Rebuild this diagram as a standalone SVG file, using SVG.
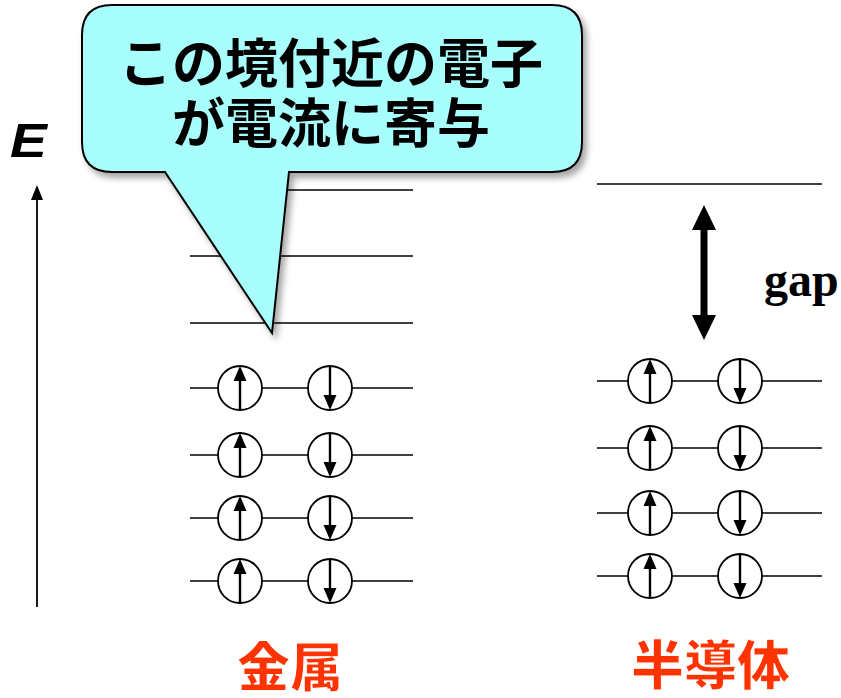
<svg xmlns="http://www.w3.org/2000/svg" width="841" height="698" viewBox="0 0 841 698">
<style>
.lv{stroke:#000;stroke-width:1.6;fill:none}
.ci{stroke:#000;stroke-width:1.8;fill:#fff}
.sp{stroke:#000;stroke-width:2.4}
.lab{font-family:"Noto Sans CJK JP","Noto Sans CJK SC",sans-serif;font-weight:900;font-size:53px;fill:#ff3300;stroke:#fff;stroke-width:1}
.cj{font-family:"Noto Sans CJK JP",sans-serif;font-weight:700;font-size:53px;fill:#000;text-anchor:middle}
</style>
<defs>
<g id="up"><circle class="ci" cx="0" cy="0" r="22"/><line class="sp" x1="0" y1="22" x2="0" y2="-8"/><path d="M-6.5,-7L6.5,-7L0,-22Z" fill="#000"/></g>
<g id="dn"><circle class="ci" cx="0" cy="0" r="22"/><line class="sp" x1="0" y1="-22" x2="0" y2="8"/><path d="M-6.5,7L6.5,7L0,22Z" fill="#000"/></g>
<filter id="sh" x="-10%" y="-10%" width="130%" height="130%"><feDropShadow dx="4" dy="5" stdDeviation="3" flood-color="#000" flood-opacity="0.35"/></filter>
</defs>

<g id="axis">
<line x1="37" y1="607" x2="37" y2="198" stroke="#000" stroke-width="1.8"/>
<path d="M31,200L43,200L37,185Z" fill="#000"/>
<text x="0" y="0" transform="translate(10,157) scale(1.15,1)" font-family="Liberation Sans,Arial,sans-serif" font-style="italic" font-weight="bold" font-size="48">E</text>
</g>

<g id="metal">
<line class="lv" x1="190" y1="190" x2="413" y2="190"/>
<line class="lv" x1="190" y1="256" x2="413" y2="256"/>
<line class="lv" x1="190" y1="323" x2="413" y2="323"/>
<g id="m1"><line class="lv" x1="190" y1="388" x2="413" y2="388"/><use href="#up" x="240" y="388"/><use href="#dn" x="330" y="388"/></g>
<g id="m2"><line class="lv" x1="190" y1="455" x2="413" y2="455"/><use href="#up" x="240" y="455"/><use href="#dn" x="330" y="455"/></g>
<g id="m3"><line class="lv" x1="190" y1="518" x2="413" y2="518"/><use href="#up" x="240" y="518"/><use href="#dn" x="330" y="518"/></g>
<g id="m4"><line class="lv" x1="190" y1="581" x2="413" y2="581"/><use href="#up" x="240" y="581"/><use href="#dn" x="330" y="581"/></g>
<text class="lab" x="237" y="687">金属</text>
</g>

<g id="semi">
<line class="lv" x1="597" y1="184" x2="822" y2="184"/>
<g id="s1"><line class="lv" x1="597" y1="381" x2="822" y2="381"/><use href="#up" x="650" y="381"/><use href="#dn" x="740" y="381"/></g>
<g id="s2"><line class="lv" x1="597" y1="448" x2="822" y2="448"/><use href="#up" x="650" y="448"/><use href="#dn" x="740" y="448"/></g>
<g id="s3"><line class="lv" x1="597" y1="513" x2="822" y2="513"/><use href="#up" x="650" y="513"/><use href="#dn" x="740" y="513"/></g>
<g id="s4"><line class="lv" x1="597" y1="576" x2="822" y2="576"/><use href="#up" x="650" y="576"/><use href="#dn" x="740" y="576"/></g>
<text class="lab" x="631" y="685">半導体</text>
</g>

<g id="connectors">
<line x1="704" y1="225" x2="704" y2="320" stroke="#000" stroke-width="7"/>
<path d="M692,230L716,230L704,205Z M692,315L716,315L704,340Z" fill="#000"/>
<text x="764" y="296" font-family="Liberation Serif,Times New Roman,serif" font-weight="bold" font-size="48">gap</text>
</g>

<g id="callout">
<path filter="url(#sh)" d="M112,5 H552 Q582,5 582,35 V142 Q582,172 552,172 H289 L272,333 L165,172 H112 Q82,172 82,142 V35 Q82,5 112,5 Z" fill="#a8fdfd" stroke="#000" stroke-width="2"/>
<text class="cj" x="331" y="83">この境付近の電子</text>
<text class="cj" x="331" y="143">が電流に寄与</text>
</g>
</svg>
